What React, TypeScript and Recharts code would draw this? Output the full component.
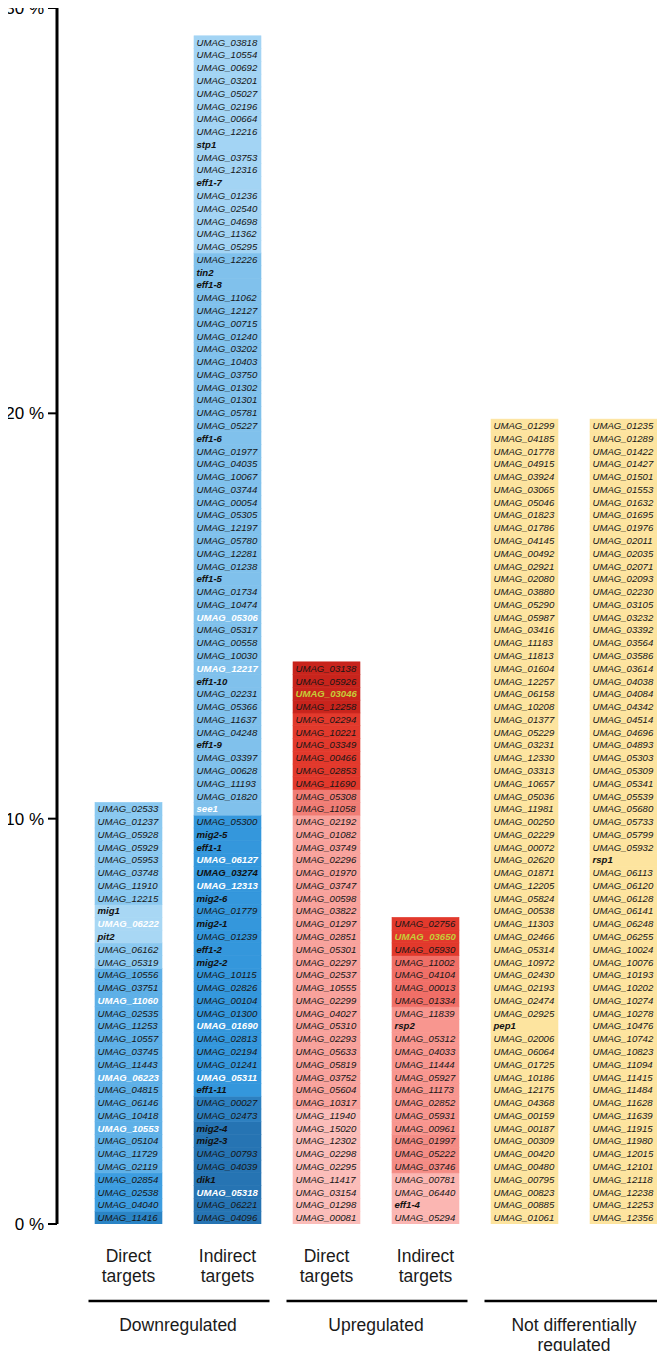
import React from 'react';
import { BarChart, Bar, XAxis, YAxis } from 'recharts';

// share of all genes (in %) that one gene stands for
const PERCENT_PER_GENE = 0.3152;
const Y_TICKS = [0, 10, 20, 30];

const COLUMN_IDS = ['downDirect', 'downIndirect', 'upDirect', 'upIndirect', 'ndA', 'ndB'];
const COLUMN_LABELS = [
  ['Direct', 'targets'],
  ['Indirect', 'targets'],
  ['Direct', 'targets'],
  ['Indirect', 'targets'],
  [],
  [],
];
const GROUP_LABELS = [['Downregulated'], ['Upregulated'], ['Not differentially', 'regulated']];

// genes as printed, top to bottom (numbers are UMAG_ ids)
const DOWN_DIRECT = '02533 01237 05928 05929 05953 03748 11910 12215 mig1 06222 pit2 06162 05319 10556 03751 11060 02535 11253 10557 03745 11443 06223 04815 06146 10418 10553 05104 11729 02119 02854 02538 04040 11416'.split(' ');
const DOWN_INDIRECT = '03818 10554 00692 03201 05027 02196 00664 12216 stp1 03753 12316 eff1-7 01236 02540 04698 11362 05295 12226 tin2 eff1-8 11062 12127 00715 01240 03202 10403 03750 01302 01301 05781 05227 eff1-6 01977 04035 10067 03744 00054 05305 12197 05780 12281 01238 eff1-5 01734 10474 05306 05317 00558 10030 12217 eff1-10 02231 05366 11637 04248 eff1-9 03397 00628 11193 01820 see1 05300 mig2-5 eff1-1 06127 03274 12313 mig2-6 01779 mig2-1 01239 eff1-2 mig2-2 10115 02826 00104 01300 01690 02813 02194 01241 05311 eff1-11 00027 02473 mig2-4 mig2-3 00793 04039 dik1 05318 06221 04096'.split(' ');
const UP_DIRECT = '03138 05926 03046 12258 02294 10221 03349 00466 02853 11690 05308 11058 02192 01082 03749 02296 01970 03747 00598 03822 01297 02851 05301 02297 02537 10555 02299 04027 05310 02293 05633 05819 03752 05604 10317 11940 15020 12302 02298 02295 11417 03154 01298 00081'.split(' ');
const UP_INDIRECT = '02756 03650 05930 11002 04104 00013 01334 11839 rsp2 05312 04033 11444 05927 11173 02852 05931 00961 01997 05222 03746 00781 06440 eff1-4 05294'.split(' ');
const NOT_DIFF_A = '01299 04185 01778 04915 03924 03065 05046 01823 01786 04145 00492 02921 02080 03880 05290 05987 03416 11183 11813 01604 12257 06158 10208 01377 05229 03231 12330 03313 10657 05036 11981 00250 02229 00072 02620 01871 12205 05824 00538 11303 02466 05314 10972 02430 02193 02474 02925 pep1 02006 06064 01725 10186 12175 04368 00159 00187 00309 00420 00480 00795 00823 00885 01061'.split(' ');
const NOT_DIFF_B = '01235 01289 01422 01427 01501 01553 01632 01695 01976 02011 02035 02071 02093 02230 03105 03232 03392 03564 03586 03614 04038 04084 04342 04514 04696 04893 05303 05309 05341 05539 05680 05733 05799 05932 rsp1 06113 06120 06128 06141 06248 06255 10024 10076 10193 10202 10274 10278 10476 10742 10823 11094 11415 11484 11628 11639 11915 11980 12015 12101 12118 12238 12253 12356'.split(' ');

// cell shades, top to bottom: [colour, number of genes]
const DOWN_DIRECT_SHADES: [string, number][] = [['#8bc9f0', 8], ['#a8d7f4', 3], ['#8bc9f0', 2], ['#5eb0e7', 16], ['#3d9de0', 3], ['#2a84c5', 1]];
const DOWN_INDIRECT_SHADES: [string, number][] = [['#a3d4f4', 17], ['#80c1ec', 44], ['#3497dc', 22], ['#2d80c0', 2], ['#2674b3', 8]];
const UP_DIRECT_SHADES: [string, number][] = [['#c8241c', 4], ['#e2392c', 6], ['#f07d75', 2], ['#f8a29c', 23], ['#fbbdb9', 9]];
const UP_INDIRECT_SHADES: [string, number][] = [['#e2392c', 3], ['#f06f67', 4], ['#f8968f', 10], ['#f48c85', 3], ['#fbb6b2', 4]];
const NOT_DIFF_SHADES: [string, number][] = [['#fde49f', 63]];

const WHITE_BOLD = ['05306', '12217', 'see1', '06127', '12313', '01690', '05311', '05318', '06222', '11060', '06223', '10553'];
const BLACK_BOLD = ['03274'];
const YELLOW_BOLD = ['03046', '03650'];

const FONT = '"Liberation Sans", Arial, sans-serif';
const BAND = 99;

const columns = [
  [DOWN_DIRECT, DOWN_DIRECT_SHADES],
  [DOWN_INDIRECT, DOWN_INDIRECT_SHADES],
  [UP_DIRECT, UP_DIRECT_SHADES],
  [UP_INDIRECT, UP_INDIRECT_SHADES],
  [NOT_DIFF_A, NOT_DIFF_SHADES],
  [NOT_DIFF_B, NOT_DIFF_SHADES],
] as [string[], [string, number][]][];

const MAX_GENES = Math.max(...columns.map(c => c[0].length));

const data = columns.map(([genes, shades], ci) => {
  const colors: string[] = [];
  shades.forEach(([c, n]) => { for (let k = 0; k < n; k++) colors.push(c); });
  const row: any = {
    id: COLUMN_IDS[ci],
    genes: [...genes].reverse(),
    colors: colors.reverse(),
  };
  for (let i = 0; i < MAX_GENES; i++) row[`g${i}`] = i < genes.length ? PERCENT_PER_GENE : 0;
  return row;
});

const labelStyle = (g: string) => {
  if (WHITE_BOLD.includes(g)) return { color: '#ffffff', weight: 700 };
  if (YELLOW_BOLD.includes(g)) return { color: '#c6cc38', weight: 700 };
  if (BLACK_BOLD.includes(g) || !/^\d+$/.test(g)) return { color: '#111111', weight: 700 };
  return { color: '#161616', weight: 400 };
};

const geneShape = (layer: number) => (props: any) => {
  const { x, y, width, height, payload } = props;
  const gene = payload?.genes?.[layer];
  if (!gene || !height) return <g />;
  const fill = payload.colors[layer];
  const st = labelStyle(gene);
  const text = /^\d+$/.test(gene) ? `UMAG_${gene}` : gene;
  return (
    <g>
      <rect x={x} y={y} width={width} height={height} fill={fill} stroke={fill} strokeWidth={0.6} />
      <text
        x={x + 2.5}
        y={y + height / 2}
        dominantBaseline="central"
        fontFamily={FONT}
        fontSize={9.6}
        fontStyle="italic"
        fontWeight={st.weight}
        fill={st.color}
      >
        {text}
      </text>
    </g>
  );
};

const ColumnTick = (props: any) => {
  const { x, y, payload } = props;
  const i = payload?.index ?? props.index ?? 0;
  const lines = COLUMN_LABELS[i] || [];
  const group = i % 2 === 0 ? GROUP_LABELS[i / 2] : null;
  return (
    <g fontFamily={FONT} fontSize={17.5} fill="#1a1a1a">
      {lines.map((t, k) => (
        <text key={k} x={x} y={y + 32 + k * 20} textAnchor="middle" dominantBaseline="central">
          {t}
        </text>
      ))}
      {group && (
        <g>
          <line x1={x - 40} x2={x + BAND + 42} y1={y + 77} y2={y + 77} stroke="#000" strokeWidth={2.5} />
          {group.map((t, k) => (
            <text key={k} x={x + BAND / 2} y={y + 101 + k * 20} textAnchor="middle" dominantBaseline="central">
              {t}
            </text>
          ))}
        </g>
      )}
    </g>
  );
};

const layers = Array.from({ length: MAX_GENES }, (_, i) => i);

export default function App() {
  return (
    <div style={{ width: 665, height: 1359, margin: '-8px 0 -8px -8px', background: '#fff' }}>
      <BarChart
        width={665}
        height={1359}
        data={data}
        margin={{ top: 8, right: -8, bottom: 0, left: 0 }}
        barSize={67}
      >
        <XAxis
          dataKey="id"
          type="category"
          axisLine={false}
          tickLine={false}
          tickSize={0}
          tickMargin={0}
          height={135}
          interval={0}
          padding={{ left: 22, right: 0 }}
          tick={<ColumnTick />}
        />
        <YAxis
          domain={[0, 30]}
          ticks={Y_TICKS}
          interval={0}
          allowDataOverflow
          width={57}
          tickFormatter={(v: number) => `${v} %`}
          axisLine={{ stroke: '#000', strokeWidth: 3 }}
          tickLine={{ stroke: '#000', strokeWidth: 2 }}
          tickSize={9}
          tickMargin={4}
          tick={{ fill: '#000', fontSize: 17, fontFamily: FONT }}
        />
        {layers.map(i => (
          <Bar
            key={i}
            dataKey={`g${i}`}
            stackId="genes"
            isAnimationActive={false}
            shape={geneShape(i)}
          />
        ))}
      </BarChart>
    </div>
  );
}
